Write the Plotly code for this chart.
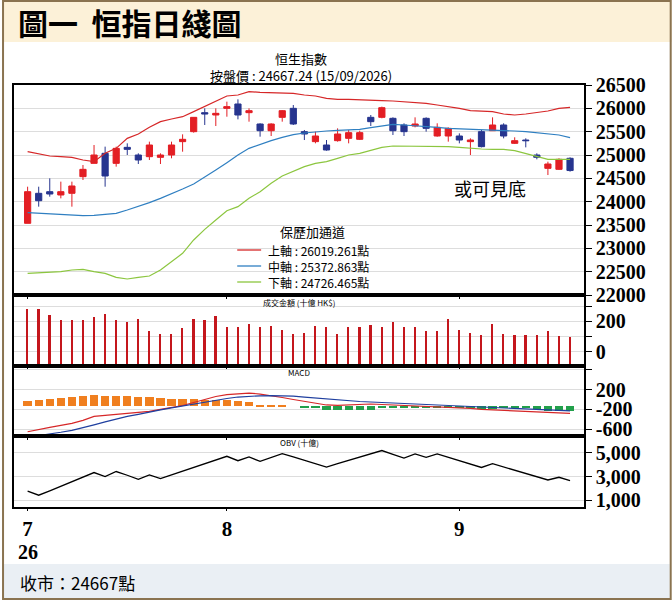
import plotly.graph_objects as go
from plotly.subplots import make_subplots

idx = list(range(50))
opens = [23536,24179,24214,24143,24179,24536,24821,25036,24821,25164,25000,24964,24950,25000,25286,25500,25907,25857,26000,26093,
         25907,25664,25521,25807,26000,25500,25286,25214,25307,25357,25336,25807,25807,25786,25643,25621,25786,25407,25407,25407,
         25286,25500,25521,25643,25250,25321,25000,24714,24693,24929]
closes = [24214,24021,24164,24214,24336,24693,25000,24550,25143,25121,24893,25214,25000,25214,25336,25807,25879,25893,26036,25857,
          25950,25521,25664,25950,25664,25450,25407,25107,25450,25479,25479,25714,26014,25521,25500,25664,25571,25593,25571,25321,
          25321,25179,25643,25407,25307,25307,24950,24807,24907,24667]
highs = [24321,24321,24500,24429,24429,24786,25214,25179,25179,25250,25036,25286,25036,25286,25443,25807,26000,26000,26143,26193,
         26000,25679,25679,25964,26071,25536,25500,25321,25571,25536,25521,25857,26036,25807,25679,25807,25807,25679,25593,25464,
         25357,25536,25807,25679,25379,25357,25036,24857,24929,24950]
lows = [23536,23893,24107,24071,23893,24464,24821,24321,24750,25000,24807,24893,24807,24929,25071,25479,25643,25621,25821,25764,
        25714,25393,25407,25714,25643,25321,25250,25093,25286,25250,25321,25621,25786,25429,25407,25593,25500,25393,25286,25250,
        25000,25164,25521,25357,25236,25164,24907,24571,24679,24643]
upper = [25071,25021,24979,24964,24950,24893,24857,25036,25143,25357,25450,25593,25714,25771,25821,25929,26036,26143,26264,26286,
         26357,26343,26336,26336,26321,26286,26264,26214,26193,26193,26179,26179,26164,26157,26143,26129,26107,26071,26036,26000,
         25950,25943,25929,25879,25857,25879,25914,25943,26000,26019]
middle = [23764,23750,23736,23721,23707,23700,23707,23729,23750,23821,23893,23979,24071,24164,24271,24379,24521,24679,24836,25000,
          25143,25229,25307,25379,25436,25471,25500,25514,25529,25536,25550,25586,25629,25657,25643,25621,25607,25593,25571,25564,
          25550,25550,25536,25521,25514,25500,25479,25464,25429,25373]
lower = [22464,22479,22486,22500,22536,22550,22500,22464,22379,22343,22379,22407,22536,22714,22893,23179,23407,23607,23807,23893,
         24071,24214,24393,24550,24643,24750,24821,24857,24929,25000,25036,25107,25164,25193,25193,25193,25186,25179,25179,25164,
         25143,25129,25121,25121,25093,25036,24964,24907,24907,24907]
volume = [278,278,244,211,211,207,227,251,211,196,216,138,116,116,156,216,207,233,160,160,
          182,160,167,144,118,122,171,160,116,160,160,178,160,196,160,160,138,138,218,144,
          122,107,182,116,111,111,107,133,100,93]
dif = [-650,-600,-560,-520,-480,-420,-340,-320,-300,-290,-270,-240,-200,-160,-120,-60,0,60,100,120,
       130,110,80,40,0,-40,-80,-110,-120,-110,-90,-90,-100,-110,-120,-125,-130,-140,-150,-160,
       -180,-200,-210,-215,-220,-230,-240,-250,-260,-280]
dea = [-760,-730,-700,-660,-620,-570,-510,-450,-390,-340,-300,-250,-210,-170,-130,-90,-50,-10,20,50,
       65,75,80,80,70,50,30,10,-10,-25,-40,-50,-60,-70,-80,-90,-100,-110,-120,-130,
       -140,-150,-160,-170,-180,-190,-200,-210,-220,-230]
hist = [115,136,149,170,190,203,237,217,217,203,190,183,170,156,149,149,136,136,122,102,
        88,34,20,20,0,-27,-34,-81,-81,-81,-81,-75,-34,-34,-34,-34,-34,-34,-34,-34,
        -34,-60,-48,-40,-40,-40,-55,-95,-100,-100]
obv = [1771,1429,1800,2200,2571,2971,3343,3000,3429,3114,2771,3143,2829,3143,3457,3771,4086,4400,4714,4343,
       4657,4286,4629,4943,4657,4371,4086,3800,4086,4371,4629,4914,5200,4886,4571,4914,4629,4914,4629,4343,
       4057,3771,4086,3800,3543,3257,2971,2714,2943,2657]
month_ticks = [0, 18, 39]
month_labels = ["<b>7</b>", "<b>8</b>", "<b>9</b>"]
year_label = "26"
price_ticks = list(range(22000, 26501, 500))

VOL_FLOOR = -95
HIST_ZERO = -140

fig = make_subplots(rows=4, cols=1, shared_xaxes=True, vertical_spacing=0,
                    row_heights=[210, 71, 70, 71])
fig.add_trace(go.Scatter(x=idx, y=upper, mode="lines", line=dict(color="#d62728", width=1.2)), 1, 1)
fig.add_trace(go.Scatter(x=idx, y=middle, mode="lines", line=dict(color="#2f7fc1", width=1.2)), 1, 1)
fig.add_trace(go.Scatter(x=idx, y=lower, mode="lines", line=dict(color="#8cc63f", width=1.2)), 1, 1)
fig.add_trace(go.Candlestick(x=idx, open=opens, high=highs, low=lows, close=closes, whiskerwidth=0,
                             increasing=dict(line=dict(color="#e31e24", width=1), fillcolor="#e31e24"),
                             decreasing=dict(line=dict(color="#27358f", width=1), fillcolor="#27358f")), 1, 1)
fig.add_trace(go.Bar(x=idx, y=[v - VOL_FLOOR for v in volume], base=VOL_FLOOR, width=0.15,
                     marker=dict(color="#c4161c", line=dict(width=0))), 2, 1)
fig.add_trace(go.Bar(x=idx, y=hist, base=HIST_ZERO, width=0.75,
                     marker=dict(color=["#f07f1f" if h >= 0 else "#22a04b" for h in hist], line=dict(width=0))), 3, 1)
fig.add_trace(go.Scatter(x=idx, y=dif, mode="lines", line=dict(color="#d62728", width=1.2)), 3, 1)
fig.add_trace(go.Scatter(x=idx, y=dea, mode="lines", line=dict(color="#1f3f9f", width=1.2)), 3, 1)
fig.add_trace(go.Scatter(x=idx, y=obv, mode="lines", line=dict(color="black", width=1.3)), 4, 1)

tickfont = dict(family="Liberation Serif", size=20, color="black")
yax = dict(side="right", showline=True, linecolor="black", linewidth=1.5, mirror=True,
           ticks="outside", ticklen=6, tickcolor="black", tickfont=tickfont,
           gridcolor="#dddddd", zeroline=False)
fig.update_yaxes(**yax)
fig.update_yaxes(range=[22000, 26500], tickvals=price_ticks,
                 ticktext=[f"<b>{v}</b>" for v in price_ticks], row=1, col=1)
fig.update_yaxes(range=[-95, 373], tickvals=[0, 100, 200, 300], ticktext=["<b>0</b>", "", "<b>200</b>", ""], row=2, col=1)
fig.update_yaxes(range=[-735, 675], tickvals=[600, 200, -200, -600],
                 ticktext=["", "<b>200</b>", "<b>-200</b>", "<b>-600</b>"], row=3, col=1)
fig.update_yaxes(range=[430, 6430], tickvals=[1000, 3000, 5000],
                 ticktext=["<b>1,000</b>", "<b>3,000</b>", "<b>5,000</b>"], row=4, col=1)
fig.update_xaxes(range=[-1.23, 50.26], showline=True, linecolor="black", linewidth=1.5, mirror=True,
                 showgrid=False, zeroline=False, rangeslider_visible=False, tickvals=month_ticks,
                 ticktext=month_labels, ticks="outside", ticklen=2, tickcolor="black", showticklabels=False)
fig.update_xaxes(showticklabels=True, tickfont=dict(family="Liberation Serif", size=21, color="black"), row=4, col=1)

L, R, T, B = 12, 88, 85, 93
W, H = 672, 600
pw, ph = W - L - R, H - T - B
def px(x): return (x - L) / pw
def py(y): return (H - B - y) / ph

shapes = [
    dict(type="rect", xref="paper", yref="paper", x0=px(0), x1=px(672), y0=py(0), y1=py(42),
         fillcolor="#fcf1d8", line=dict(width=0), layer="below"),
    dict(type="rect", xref="paper", yref="paper", x0=px(2), x1=px(670), y0=py(564), y1=py(598),
         fillcolor="#eaeff4", line=dict(width=0), layer="below"),
    dict(type="rect", xref="paper", yref="paper", x0=px(1), x1=px(671), y0=py(1), y1=py(599),
         fillcolor="rgba(0,0,0,0)", line=dict(color="#8a7350", width=2)),
]
leg = [("上軸 : 26019.261點", "#d62728", 250), ("中軸 : 25372.863點", "#2f7fc1", 266), ("下軸 : 24726.465點", "#8cc63f", 282)]
ann = [
    dict(text="<b>圖一  恒指日綫圖</b>", x=px(14), y=py(22), xanchor="left", font=dict(size=30, family="Noto Sans CJK TC")),
    dict(text="恒生指數", x=px(300), y=py(59), font=dict(size=13)),
    dict(text="按盤價 : 24667.24 (15/09/2026)", x=px(300), y=py(75), font=dict(size=13)),
    dict(text="或可見底", x=px(490), y=py(188), font=dict(size=18)),
    dict(text="保歷加通道", x=px(312), y=py(231), font=dict(size=13)),
    dict(text="成交金額 (十億 HK$)", x=px(298), y=py(302), font=dict(size=8)),
    dict(text="MACD", x=px(298), y=py(372), font=dict(size=8)),
    dict(text="OBV (十億)", x=px(298), y=py(442), font=dict(size=8)),
    dict(text="收市：24667點", x=px(16), y=py(582), xanchor="left", font=dict(size=17)),
    dict(text=f"<b>{year_label}</b>", x=px(26), y=py(552), font=dict(size=20, family="Liberation Serif")),
]
for t, c, y in leg:
    shapes.append(dict(type="line", xref="paper", yref="paper", x0=px(236), x1=px(260), y0=py(y), y1=py(y),
                       line=dict(color=c, width=1.3)))
    ann.append(dict(text=t, x=px(265), y=py(y), xanchor="left", font=dict(size=12)))
for a in ann:
    a.update(xref="paper", yref="paper", showarrow=False, yanchor="middle")
    a.setdefault("xanchor", "center")
    a["font"].setdefault("family", "Noto Sans CJK TC")
    a["font"]["color"] = "black"

fig.update_layout(width=W, height=H, margin=dict(l=L, r=R, t=T, b=B), showlegend=False,
                  paper_bgcolor="white", plot_bgcolor="white", bargap=0, boxgap=0.2,
                  shapes=shapes, annotations=ann)
fig.write_html("out.html", config={"displayModeBar": False},
               post_script="document.body.style.margin='0';document.body.style.overflow='hidden';")
